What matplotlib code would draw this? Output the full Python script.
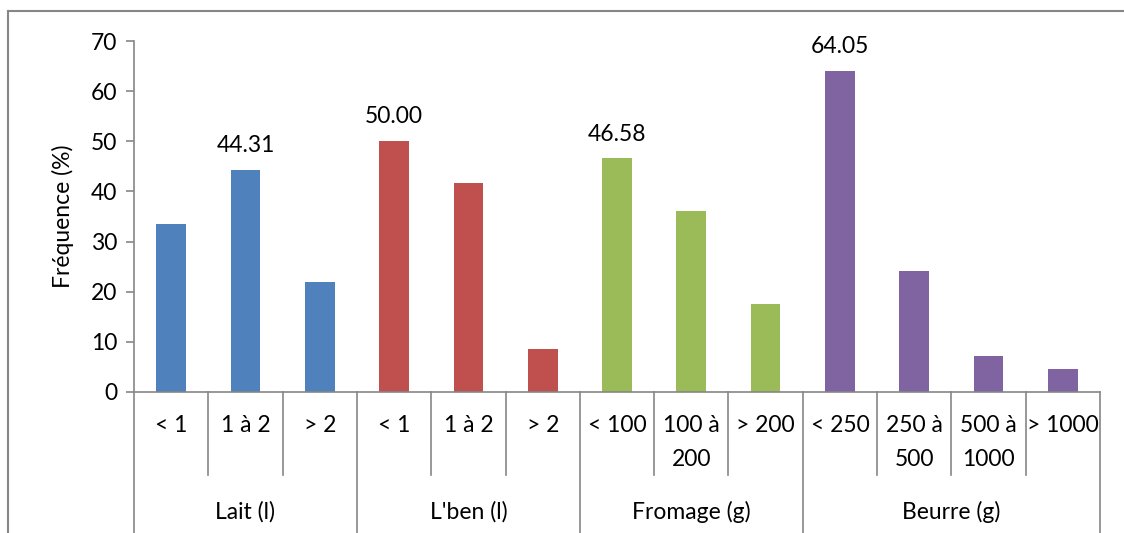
import matplotlib.pyplot as plt
import matplotlib.transforms as mtransforms
from matplotlib.lines import Line2D

plt.rcParams['font.family'] = ['Lato', 'DejaVu Sans']

groups = ["Lait (l)", "L'ben (l)", "Fromage (g)", "Beurre (g)"]
categories = [
    ["< 1", "1 à 2", "> 2"],
    ["< 1", "1 à 2", "> 2"],
    ["< 100", "100 à\n200", "> 200"],
    ["< 250", "250 à\n500", "500 à\n1000", "> 1000"],
]
values = [
    [33.5, 44.31, 22.0],
    [50.00, 41.7, 8.6],
    [46.58, 36.1, 17.6],
    [64.05, 24.1, 7.2, 4.6],
]
# which bars carry a value label
labelled = [1, 0, 0, 0]
colors = ['#4F81BD', '#C0504D', '#9BBB59', '#8064A2']
grey = '#868686'

fig = plt.figure(figsize=(11.24, 5.33), dpi=100)
ax = fig.add_axes([134 / 1124, 1 - 392 / 533, 966 / 1124, 351 / 533])

trans = mtransforms.blended_transform_factory(ax.transData, ax.transAxes)
fs = 16.5
pos = 0
for g, (name, cats, vals) in enumerate(zip(groups, categories, values)):
    xs = [pos + i for i in range(len(vals))]
    ax.bar(xs, vals, width=0.4, color=colors[g])
    k = labelled[g]
    ax.annotate(f"{vals[k]:.2f}", (xs[k], vals[k]), xytext=(0, 10),
                textcoords='offset points', ha='center', va='bottom', fontsize=fs)
    for x, c in zip(xs, cats):
        ax.text(x, -0.066, c, transform=trans, ha='center', va='top',
                fontsize=fs, linespacing=1.75)
        if x != xs[0]:
            ax.plot([x - 0.5, x - 0.5], [0, -0.236], transform=trans,
                    color=grey, lw=1.2, clip_on=False)
    ax.text((xs[0] + xs[-1]) / 2, -0.342, name, transform=trans,
            ha='center', va='center', fontsize=fs)
    ax.plot([xs[0] - 0.5, xs[0] - 0.5], [0, -0.42], transform=trans,
            color=grey, lw=1.2, clip_on=False)
    pos += len(vals)
ax.plot([pos - 0.5, pos - 0.5], [0, -0.42], transform=trans,
        color=grey, lw=1.2, clip_on=False)

ax.set_xlim(-0.5, pos - 0.5)
ax.set_ylim(0, 70)
ax.set_yticks(range(0, 71, 10))
ax.set_xticks([])
ax.tick_params(axis='y', labelsize=fs, length=6, color=grey, width=1.2, pad=6)
ax.set_ylabel('Fréquence (%)', fontsize=fs, labelpad=12)
for s in ['top', 'right']:
    ax.spines[s].set_visible(False)
for s in ['left', 'bottom']:
    ax.spines[s].set_color(grey)
    ax.spines[s].set_linewidth(1.2)

# outer chart border
fig.add_artist(Line2D([8 / 1124, 1.0], [1 - 11 / 533] * 2, color=grey, lw=1.5))
fig.add_artist(Line2D([8 / 1124] * 2, [0, 1 - 11 / 533], color=grey, lw=1.5))

fig.savefig('out.png', dpi=100)
